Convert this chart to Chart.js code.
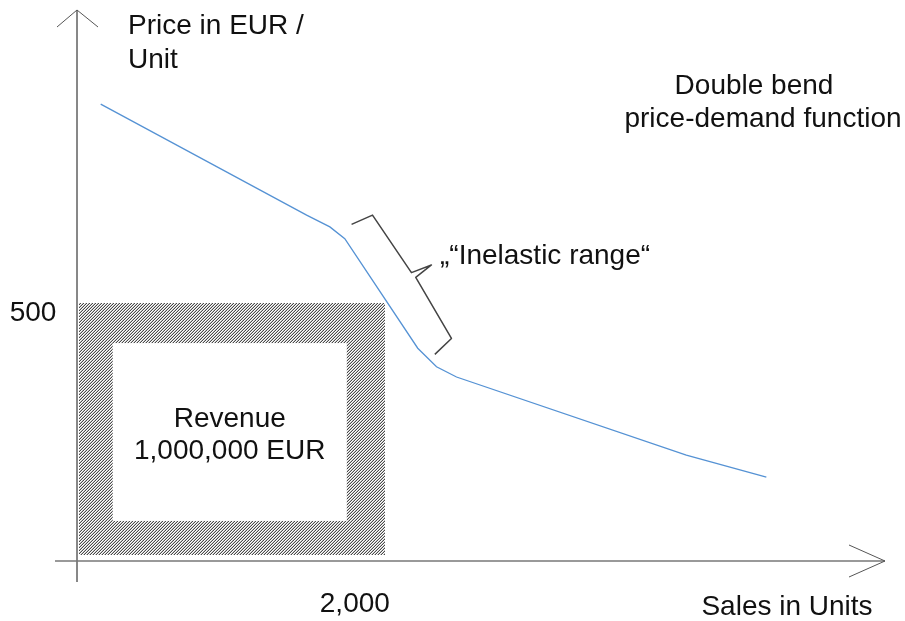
<!DOCTYPE html>
<html>
<head>
<meta charset="utf-8">
<script src="https://cdn.jsdelivr.net/npm/chart.js@4.4.1/dist/chart.umd.min.js"></script>
<style>
  body { margin: 0; background: #fff; }
  #wrap { width: 905px; height: 621px; }
</style>
</head>
<body>
<div id="wrap"><canvas id="priceChart" width="905" height="621"></canvas></div>
<script>
// price-demand curve (sales in units vs price in EUR)
var salesUnits   = [154, 1492, 1643, 1740, 2214, 2336, 2466, 3959, 4479];
var pricePerUnit = [887,  671,  648,  625,  412,  376,  356,  204,  161];

// tick labels
var xTickValue = 2000, xTickLabel = '2,000';
var yTickValue = 500,  yTickLabel = '500';

// revenue box: [units from, units to, price from, price to]
var revenueOuter = [13, 2000, 10, 500];
var revenueInner = [232, 1753, 76, 422];

// brace around the inelastic range (data coords)
var braceUnits = [1784, 1920, 2173, 2303, 2201, 2433, 2325];
var bracePrice = [653, 671, 559, 574, 550, 431, 400];

var FONT = '"Liberation Sans", Arial, sans-serif';

// 3px diagonal hatch, drawn pixel by pixel
function hatchPattern(ctx) {
    var c = document.createElement('canvas');
    c.width = 3; c.height = 3;
    var p = c.getContext('2d');
    p.fillStyle = '#fff';
    p.fillRect(0, 0, 3, 3);
    p.fillStyle = '#4a4a4a';
    for (var i = 0; i < 3; i++) p.fillRect(i, 2 - i, 1, 1);
    p.fillStyle = '#c4c4c4';
    for (var j = 0; j < 3; j++) p.fillRect((j + 2) % 3, 2 - j, 1, 1);
    return ctx.createPattern(c, 'repeat');
}

var sketchPlugin = {
    id: 'sketch',
    beforeDatasetsDraw: function(chart) {
        var ctx = chart.ctx, x = chart.scales.x, y = chart.scales.y;
        ctx.save();
        // hatched revenue box
        var ox1 = Math.round(x.getPixelForValue(revenueOuter[0])), ox2 = Math.round(x.getPixelForValue(revenueOuter[1]));
        var oy1 = Math.round(y.getPixelForValue(revenueOuter[3])), oy2 = Math.round(y.getPixelForValue(revenueOuter[2]));
        ctx.fillStyle = hatchPattern(ctx);
        ctx.fillRect(ox1, oy1, ox2 - ox1, oy2 - oy1);
        var ix1 = x.getPixelForValue(revenueInner[0]), ix2 = x.getPixelForValue(revenueInner[1]);
        var iy1 = y.getPixelForValue(revenueInner[3]), iy2 = y.getPixelForValue(revenueInner[2]);
        ctx.fillStyle = '#fff';
        ctx.fillRect(ix1, iy1, ix2 - ix1, iy2 - iy1);
        ctx.restore();
    },
    afterDatasetsDraw: function(chart) {
        var ctx = chart.ctx, x = chart.scales.x, y = chart.scales.y;
        var x0 = x.getPixelForValue(0), y0 = y.getPixelForValue(0);
        var area = chart.chartArea;
        ctx.save();

        // y axis with arrow
        ctx.strokeStyle = '#111';
        ctx.lineWidth = 1;
        ctx.beginPath();
        ctx.moveTo(x0, area.top);
        ctx.lineTo(x0, y0 + 22);
        ctx.stroke();
        ctx.strokeStyle = '#555';
        ctx.beginPath();
        ctx.moveTo(x0 - 20, area.top + 17);
        ctx.lineTo(x0, area.top);
        ctx.lineTo(x0 + 21, area.top + 17);
        ctx.stroke();

        // x axis with arrow
        ctx.strokeStyle = '#777';
        ctx.lineWidth = 1.5;
        ctx.beginPath();
        ctx.moveTo(x0 - 22, y0 + 1);
        ctx.lineTo(area.right, y0 + 1);
        ctx.stroke();
        ctx.lineWidth = 1;
        ctx.strokeStyle = '#555';
        ctx.beginPath();
        ctx.moveTo(area.right - 36, y0 - 15);
        ctx.lineTo(area.right, y0 + 1);
        ctx.lineTo(area.right - 36, y0 + 17);
        ctx.stroke();

        // brace
        ctx.strokeStyle = '#444';
        ctx.lineWidth = 1.5;
        ctx.lineJoin = 'round';
        ctx.beginPath();
        braceUnits.forEach(function(u, i) {
            var px = x.getPixelForValue(u), py = y.getPixelForValue(bracePrice[i]);
            if (i === 0) ctx.moveTo(px, py); else ctx.lineTo(px, py);
        });
        ctx.stroke();

        // texts
        ctx.fillStyle = '#111';
        ctx.font = '28px ' + FONT;
        ctx.textBaseline = 'middle';
        ctx.textAlign = 'left';
        ctx.fillText('Price in EUR /', 128, 26);
        ctx.fillText('Unit', 128, 60);
        ctx.fillText('\u201E\u201CInelastic range\u201C', 440, 256);

        ctx.textAlign = 'center';
        ctx.fillText('Double bend', 754, 86);
        ctx.fillText('price-demand function', 763, 119);
        ctx.fillText(yTickLabel, 33, y.getPixelForValue(yTickValue) + 10);
        ctx.fillText(xTickLabel, x.getPixelForValue(xTickValue) - 30, 604);
        ctx.fillText('Sales in Units', 787, 607);

        var cx = (x.getPixelForValue(revenueInner[0]) + x.getPixelForValue(revenueInner[1])) / 2;
        ctx.fillText('Revenue', cx, 419);
        ctx.fillText('1,000,000 EUR', cx, 451);
        ctx.restore();
    }
};

var ctx = document.getElementById('priceChart');
var priceChart = new Chart(ctx, {
    type: 'line',
    data: {
        datasets: [{
            label: 'Price-demand',
            data: salesUnits.map(function(u, i) { return { x: u, y: pricePerUnit[i] }; }),
            borderColor: '#5592d4',
            borderWidth: 1.3,
            pointRadius: 0,
            tension: 0,
            fill: false
        }]
    },
    options: {
        responsive: false,
        animation: false,
        layout: { padding: { left: 77, right: 20, top: 10, bottom: 61 } },
        scales: {
            x: { type: 'linear', min: 0, max: 5250, display: false },
            y: { type: 'linear', min: 0, max: 1070, display: false }
        },
        plugins: {
            legend: { display: false },
            tooltip: { enabled: false }
        }
    },
    plugins: [sketchPlugin]
});
</script>
</body>
</html>
